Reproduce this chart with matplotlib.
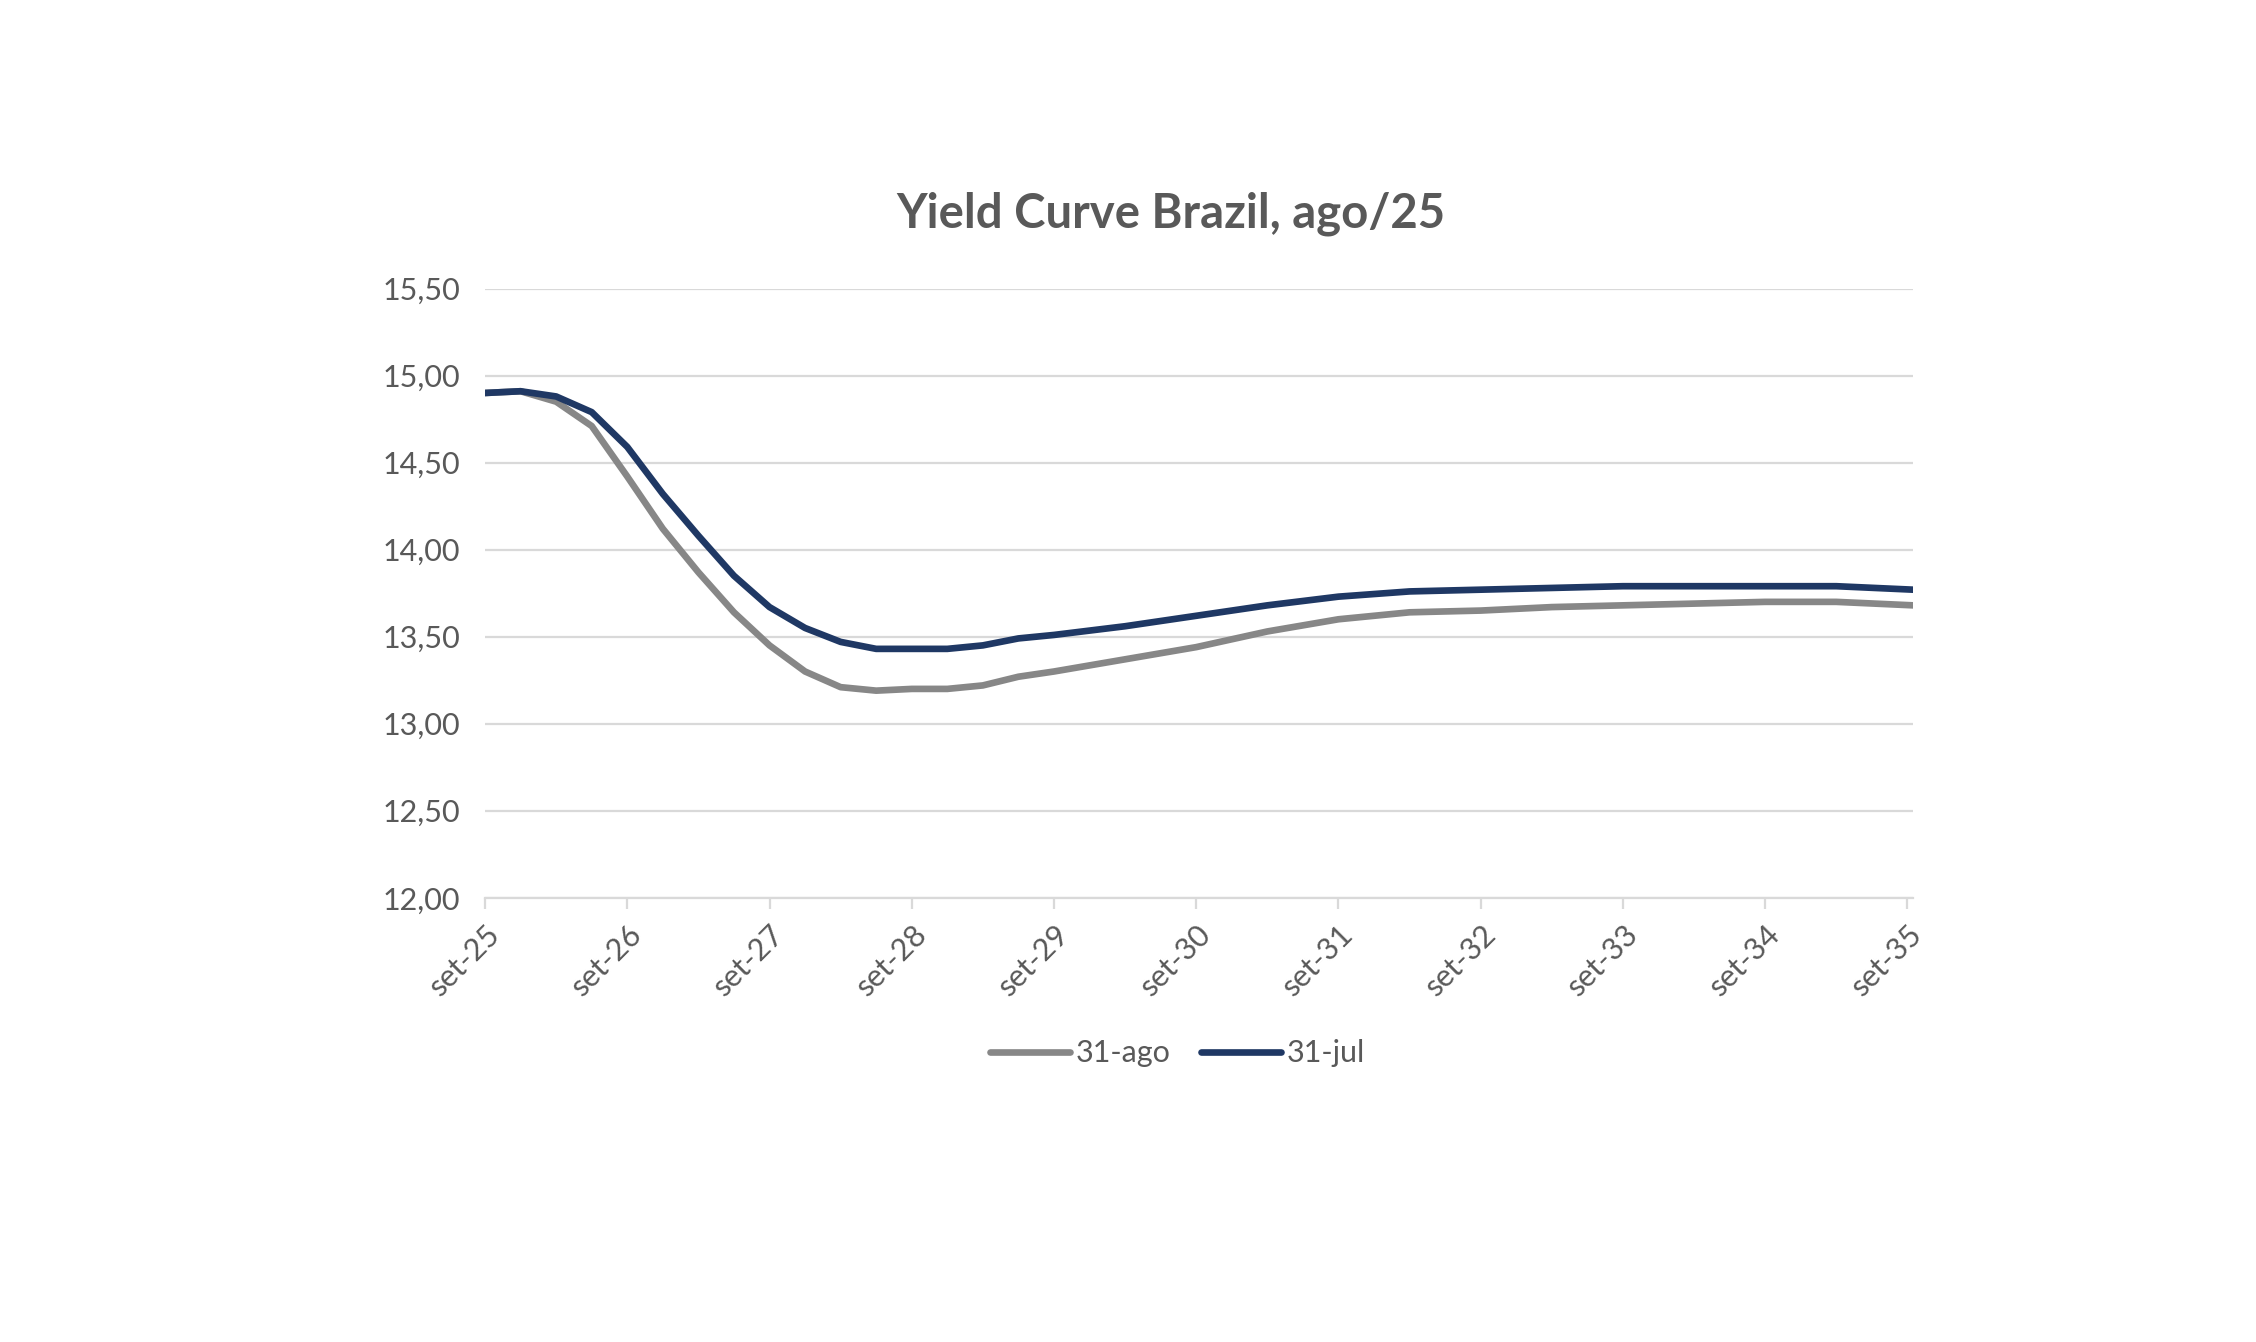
import matplotlib
matplotlib.use("Agg")
import matplotlib.pyplot as plt

# years since set-25
years = [0, 0.25, 0.5, 0.75, 1.0, 1.25, 1.5, 1.75, 2.0, 2.25, 2.5, 2.75, 3.0,
         3.25, 3.5, 3.75, 4.0, 4.5, 5.0, 5.5, 6.0, 6.5, 7.0, 7.5, 8.0, 8.5,
         9.0, 9.5, 10.04]

jul_31 = [14.90, 14.91, 14.88, 14.79, 14.59, 14.32, 14.08, 13.85, 13.67, 13.55,
          13.47, 13.43, 13.43, 13.43, 13.45, 13.49, 13.51, 13.56, 13.62, 13.68,
          13.73, 13.76, 13.77, 13.78, 13.79, 13.79, 13.79, 13.79, 13.77]

ago_31 = [14.90, 14.91, 14.85, 14.71, 14.42, 14.12, 13.87, 13.64, 13.45, 13.30,
          13.21, 13.19, 13.20, 13.20, 13.22, 13.27, 13.30, 13.37, 13.44, 13.53,
          13.60, 13.64, 13.65, 13.67, 13.68, 13.69, 13.70, 13.70, 13.68]

tick_labels = ["set-25", "set-26", "set-27", "set-28", "set-29", "set-30",
               "set-31", "set-32", "set-33", "set-34", "set-35"]
y_ticks = [12.0, 12.5, 13.0, 13.5, 14.0, 14.5, 15.0, 15.5]

text_color = "#595959"
grid_color = "#D9D9D9"
plt.rcParams["font.family"] = ["Lato", "DejaVu Sans"]

fig = plt.figure(figsize=(22.56, 13.42), dpi=100)
ax = fig.add_axes([0.215, 0.331, 0.633, 0.454])

ax.plot(years, ago_31, color="#878787", lw=4.8, label="31-ago", solid_capstyle="round")
ax.plot(years, jul_31, color="#1F3864", lw=4.8, label="31-jul", solid_capstyle="round")

ax.set_xlim(0, 10.04)
ax.set_ylim(12.0, 15.5)
ax.set_yticks(y_ticks)
ax.set_yticklabels([f"{v:.2f}".replace(".", ",") for v in y_ticks])
ax.set_xticks(range(len(tick_labels)))
ax.set_xticklabels(tick_labels, rotation=45, ha="right", rotation_mode="anchor")

ax.grid(axis="y", color=grid_color, lw=1.6)
ax.set_axisbelow(True)
for side in ["top", "right", "left"]:
    ax.spines[side].set_visible(False)
ax.spines["bottom"].set_color(grid_color)
ax.spines["bottom"].set_linewidth(1.6)
ax.tick_params(axis="y", length=0, pad=18, labelsize=22, labelcolor=text_color)
ax.tick_params(axis="x", length=8, width=1.6, color=grid_color, pad=8,
               labelsize=22, labelcolor=text_color)

fig.text(0.519, 0.841, "Yield Curve Brazil, ago/25", ha="center", va="center",
         fontsize=34, fontweight="bold", color=text_color)

fig.legend(loc="center", bbox_to_anchor=(0.522, 0.215), ncol=2, frameon=False,
           fontsize=22, labelcolor=text_color, handlelength=2.6,
           handletextpad=0.2, columnspacing=1.0)

fig.savefig("out.png", dpi=100, facecolor="white")
